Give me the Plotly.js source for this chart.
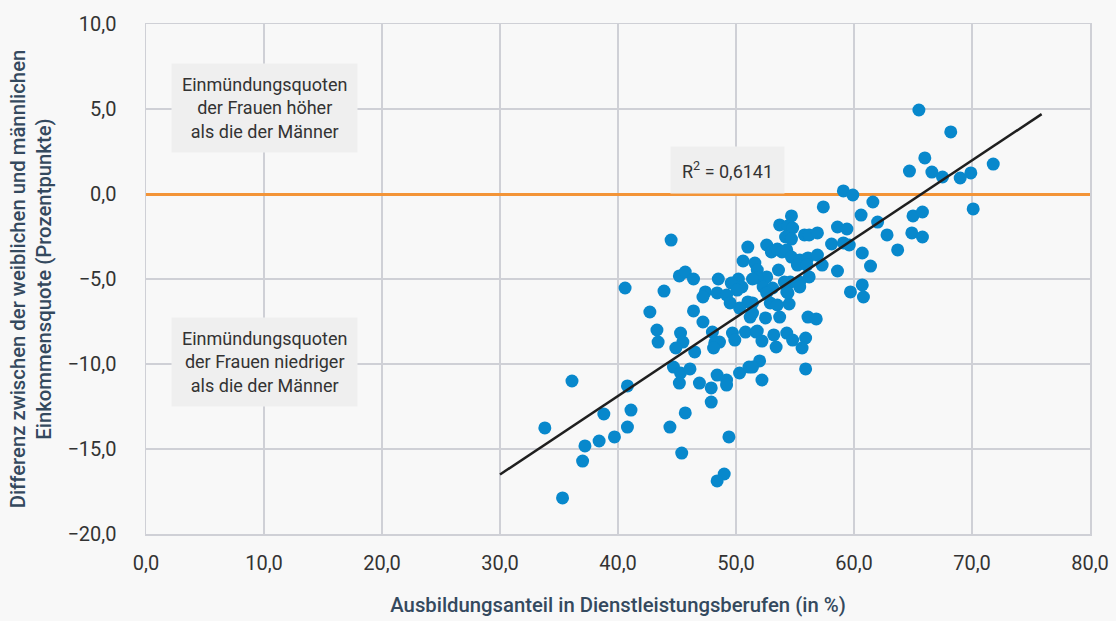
<!DOCTYPE html>
<html>
<head>
<meta charset="utf-8">
<script src="https://cdn.plot.ly/plotly-3.0.1.min.js"></script>
<style>
html,body{margin:0;padding:0;background:#f8f8f8;}
#chart{width:1116px;height:621px;}
</style>
</head>
<body>
<div id="chart"></div>
<script>
// Ausbildungsanteil in Dienstleistungsberufen (%)
const shareX = [
65.5,68.2,66.0,64.7,66.6,67.5,69.0,69.9,71.8,70.1,65.0,65.8,64.9,65.8,63.7,59.1,59.9,61.6,57.4,60.6,
62.0,62.8,60.7,61.4,60.7,60.8,59.7,58.6,58.6,59.4,58.1,59.1,59.6,54.7,53.7,54.4,54.8,54.2,54.7,55.8,
56.2,56.9,52.6,53.0,53.5,53.9,54.3,54.7,55.4,56.1,56.9,57.3,51.0,50.6,51.6,51.8,53.6,55.2,56.0,56.2,
55.4,54.6,52.6,51.8,52.3,54.1,54.3,53.1,55.4,51.4,50.2,49.6,50.5,48.5,50.1,44.5,45.2,45.7,46.4,40.6,
43.9,42.7,47.4,48.4,49.2,47.2,49.5,51.0,50.3,51.2,46.4,47.2,48.0,43.3,43.4,45.3,45.5,44.9,46.5,48.2,
48.6,49.7,49.9,50.8,48.1,51.7,44.7,45.3,46.1,45.2,46.9,48.4,49.2,49.2,47.9,50.3,51.1,47.9,45.7,44.4,
49.4,45.4,49.0,48.4,36.1,33.8,35.3,37.2,37.0,38.4,39.7,38.8,40.8,41.1,40.8,54.5,52.9,53.5,51.4,51.4,
52.5,53.7,56.1,56.8,51.8,53.2,54.3,54.8,55.9,52.2,53.4,55.6,52.0,51.4,55.9,52.2,54.4,52.6
];
// Differenz der Einmündungsquoten (Prozentpunkte)
const diffY = [
4.94,3.65,2.12,1.35,1.29,1.00,0.94,1.24,1.76,-0.88,-1.29,-1.06,-2.29,-2.53,-3.29,0.18,-0.06,-0.47,-0.76,-1.24,
-1.65,-2.41,-3.47,-4.24,-5.35,-6.06,-5.76,-4.53,-1.94,-2.06,-2.94,-2.88,-3.00,-1.29,-1.82,-1.88,-2.00,-2.53,-2.65,-2.41,
-2.41,-2.29,-3.00,-3.41,-3.24,-3.41,-3.29,-3.71,-3.88,-3.76,-3.59,-4.18,-3.12,-3.94,-4.06,-4.47,-4.47,-4.18,-4.18,-4.88,
-5.18,-5.18,-4.88,-4.94,-5.47,-5.18,-5.76,-5.53,-5.47,-5.00,-5.00,-5.24,-5.47,-5.00,-5.65,-2.71,-4.82,-4.59,-5.00,-5.53,
-5.71,-6.94,-5.76,-5.82,-5.94,-6.06,-6.41,-6.35,-6.71,-7.24,-6.88,-7.53,-8.12,-8.00,-8.71,-8.18,-8.71,-9.06,-9.29,-8.76,
-8.71,-8.18,-8.59,-8.12,-9.06,-8.12,-10.18,-10.53,-10.29,-11.12,-11.12,-10.65,-10.94,-11.24,-11.41,-10.53,-10.18,-12.24,-12.88,-13.71,
-14.29,-15.24,-16.47,-16.88,-11.00,-13.76,-17.88,-14.82,-15.71,-14.53,-14.29,-12.94,-13.71,-12.71,-11.29,-6.47,-6.41,-6.53,-6.41,-7.00,
-7.29,-7.24,-7.24,-7.35,-8.06,-8.29,-8.18,-8.59,-8.47,-8.65,-9.00,-9.06,-9.82,-10.18,-10.29,-10.94,-5.82,-5.82
];
// Lineare Trendlinie (Endpunkte)
const trendX = [30.0, 75.9];
const trendY = [-16.5, 4.7];

const xTicks = [0,10,20,30,40,50,60,70,80];
const yTicks = [-20,-15,-10,-5,0,5,10];

const FONT = 'Roboto, "Open Sans", sans-serif';
const GRID = '#cfd0d6';

const traces = [
  {x: shareX, y: diffY, type:'scatter', mode:'markers',
   marker:{color:'#0888cc', size:13}, hoverinfo:'x+y', showlegend:false},
  {x: trendX, y: trendY, type:'scatter', mode:'lines',
   line:{color:'#1f1f1f', width:2.5}, hoverinfo:'skip', showlegend:false}
];

const layout = {
  width:1116, height:621,
  paper_bgcolor:'#f8f8f8', plot_bgcolor:'#f8f8f8',
  margin:{l:146, r:26, t:24, b:87},
  separators:',.',
  font:{family:FONT, size:19, color:'#333333'},
  xaxis:{range:[0,80], tickvals:xTicks, tickformat:'.1f',
    showgrid:true, gridcolor:GRID, gridwidth:1.5, zeroline:false,
    showline:true, linecolor:GRID, linewidth:1.5, mirror:true,
    ticks:'outside', ticklen:10, tickcolor:'rgba(0,0,0,0)',
    tickfont:{family:FONT, size:20, color:'#333333'},
    title:{text:'Ausbildungsanteil in Dienstleistungsberufen (in %)', standoff:24,
      font:{family:FONT, size:20.3, color:'#34495e', weight:500}}},
  yaxis:{range:[-20,10], tickvals:yTicks, tickformat:'.1f',
    showgrid:true, gridcolor:GRID, gridwidth:1.5,
    zeroline:true, zerolinecolor:'#f39437', zerolinewidth:3,
    showline:true, linecolor:GRID, linewidth:1.5, mirror:true,
    ticks:'outside', ticklen:24, tickcolor:'rgba(0,0,0,0)',
    tickfont:{family:FONT, size:20, color:'#333333'},
    title:{text:'Differenz zwischen der weiblichen und männlichen<br>Einkommensquote (Prozentpunkte)', standoff:10,
      font:{family:FONT, size:20.3, color:'#34495e', weight:500}}},
  annotations:[
    {x:10, y:5.05, xref:'x', yref:'y', showarrow:false,
     text:'Einmündungsquoten<br>der Frauen höher<br>als die der Männer',
     font:{family:FONT, size:18, color:'#333333'}, bgcolor:'#efefef', borderpad:10, align:'center'},
    {x:10, y:-9.9, xref:'x', yref:'y', showarrow:false,
     text:'Einmündungsquoten<br>der Frauen niedriger<br>als die der Männer',
     font:{family:FONT, size:18, color:'#333333'}, bgcolor:'#efefef', borderpad:10, align:'center'},
    {x:49.3, y:1.4, xref:'x', yref:'y', showarrow:false,
     text:'R<sup>2</sup> = 0,6141',
     font:{family:FONT, size:18, color:'#333333'}, bgcolor:'#efefef', borderpad:11, align:'center'}
  ]
};

Plotly.newPlot('chart', traces, layout, {displayModeBar:false, staticPlot:true});
</script>
</body>
</html>
